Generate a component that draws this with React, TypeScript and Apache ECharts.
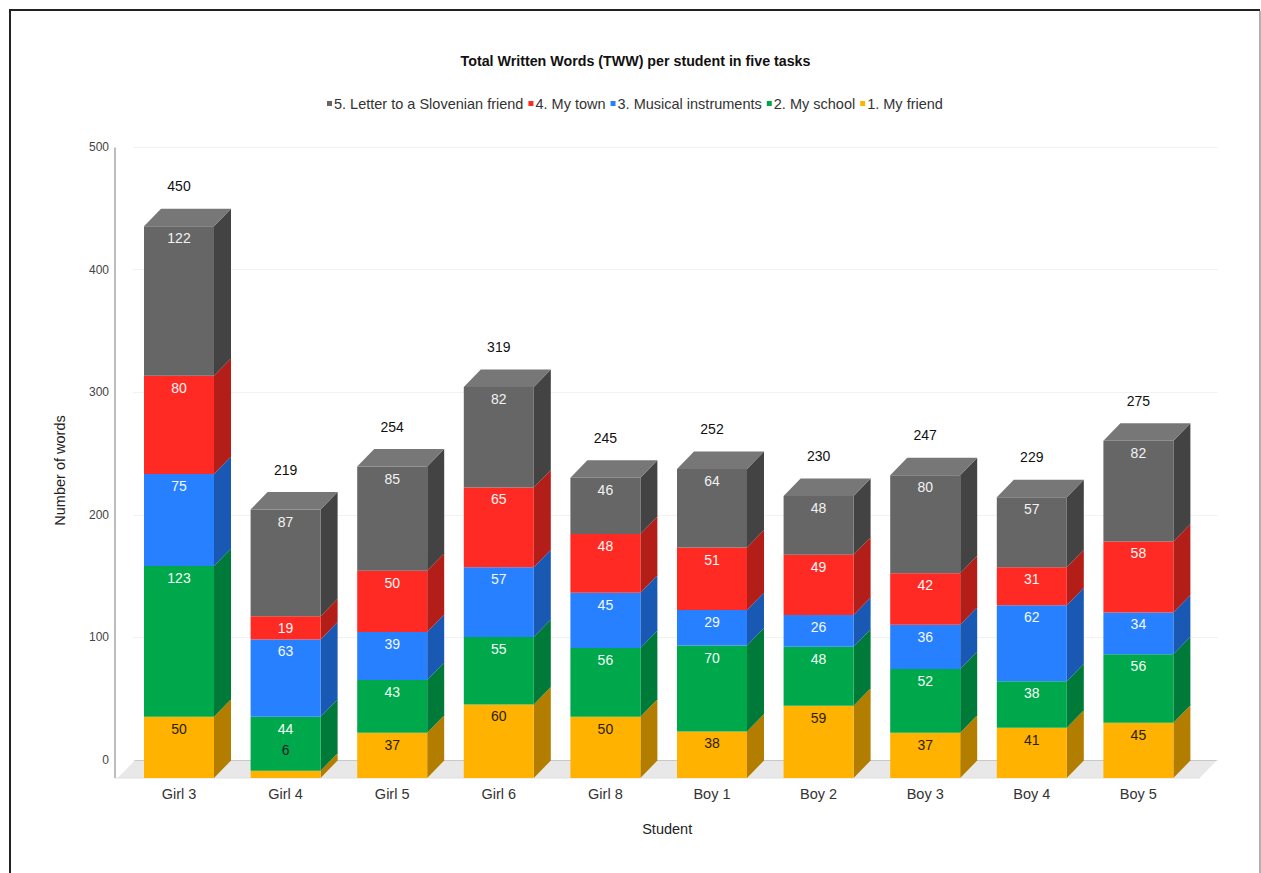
import React, { useEffect, useRef } from "react";
import * as echarts from "echarts";

const FONT = '"Liberation Sans", Arial, sans-serif';

const students = ["Girl 3", "Girl 4", "Girl 5", "Girl 6", "Girl 8", "Boy 1", "Boy 2", "Boy 3", "Boy 4", "Boy 5"];
const myFriend = [50, 6, 37, 60, 50, 38, 59, 37, 41, 45];
const mySchool = [123, 44, 43, 55, 56, 70, 48, 52, 38, 56];
const musicalInstruments = [75, 63, 39, 57, 45, 29, 26, 36, 62, 34];
const myTown = [80, 19, 50, 65, 48, 51, 49, 42, 31, 58];
const letterToFriend = [122, 87, 85, 82, 46, 64, 48, 80, 57, 82];
const totals = [450, 219, 254, 319, 245, 252, 230, 247, 229, 275];
const legendOrder = ["5. Letter to a Slovenian friend", "4. My town", "3. Musical instruments", "2. My school", "1. My friend"];

// Stacked from the ground up: values, front colour, side colour, top colour, label colour.
const tasks = [
  { name: "1. My friend", values: myFriend, front: "#ffb300", side: "#b37d00", top: "#ffc233", text: "#2b2100" },
  { name: "2. My school", values: mySchool, front: "#00a84c", side: "#007a38", top: "#33b96f", text: "#f4fff8" },
  { name: "3. Musical instruments", values: musicalInstruments, front: "#2680ff", side: "#1a59b3", top: "#5199ff", text: "#f4f8ff" },
  { name: "4. My town", values: myTown, front: "#ff2a23", side: "#b31e19", top: "#ff554f", text: "#fff6f6" },
  { name: "5. Letter to a Slovenian friend", values: letterToFriend, front: "#666666", side: "#434343", top: "#777777", text: "#f2f2f2" },
];

const DEPTH_X = 17;
const DEPTH_Y = 17.5;
const BAR_WIDTH = 70;
const SMALL_SEGMENT = 12;

function boxRenderer(task: (typeof tasks)[number], isTop: boolean) {
  return (_params: any, api: any) => {
    const i = api.value(0);
    const [cx, yBase] = api.coord([i, api.value(1)]);
    const [, yEnd] = api.coord([i, api.value(2)]);
    const x0 = cx - BAR_WIDTH / 2;
    const x1 = cx + BAR_WIDTH / 2;
    const children: any[] = [
      {
        type: "polygon",
        shape: { points: [[x1, yBase], [x1 + DEPTH_X, yBase - DEPTH_Y], [x1 + DEPTH_X, yEnd - DEPTH_Y], [x1, yEnd]] },
        style: { fill: task.side },
      },
      { type: "rect", shape: { x: x0, y: yEnd, width: BAR_WIDTH, height: yBase - yEnd }, style: { fill: task.front } },
    ];
    if (isTop) {
      children.push({
        type: "polygon",
        shape: { points: [[x0, yEnd], [x0 + DEPTH_X, yEnd - DEPTH_Y], [x1 + DEPTH_X, yEnd - DEPTH_Y], [x1, yEnd]] },
        style: { fill: task.top },
      });
    }
    // A label that would not fit in a thin segment sits above it, on the block below the next one.
    const small = yBase - yEnd < SMALL_SEGMENT;
    children.push({
      type: "text",
      z2: 50,
      style: {
        x: cx,
        y: small ? yEnd - 21 : yEnd + 12,
        text: String(api.value(3)),
        fill: small ? "#222222" : task.text,
        font: `14px ${FONT}`,
        align: "center",
        verticalAlign: "middle",
      },
    });
    return { type: "group", children };
  };
}

function floorRenderer(params: any) {
  const sys = params.coordSys;
  const bottom = sys.y + sys.height;
  const frontLeft = sys.x - 8;
  const frontRight = sys.x + sys.width + 8;
  const axisX = sys.x - 10.7;
  return {
    type: "group",
    children: [
      {
        type: "polygon",
        shape: {
          points: [
            [frontLeft, bottom],
            [frontLeft + DEPTH_X, bottom - DEPTH_Y],
            [frontRight + DEPTH_X, bottom - DEPTH_Y],
            [frontRight, bottom],
          ],
        },
        style: { fill: "#e8e8e8" },
      },
      {
        type: "line",
        shape: { x1: frontLeft + DEPTH_X, y1: bottom - DEPTH_Y, x2: frontRight + DEPTH_X, y2: bottom - DEPTH_Y },
        style: { stroke: "#c8c8c8", lineWidth: 1 },
      },
      {
        type: "line",
        shape: { x1: axisX, y1: bottom, x2: frontRight, y2: bottom },
        style: { stroke: "#e0e0e0", lineWidth: 1 },
      },
      {
        type: "line",
        shape: { x1: axisX, y1: sys.y - DEPTH_Y, x2: axisX, y2: bottom },
        style: { stroke: "#bdbdbd", lineWidth: 2 },
      },
    ],
  };
}

function totalRenderer(_params: any, api: any) {
  const [cx, y] = api.coord([api.value(0), api.value(1)]);
  return {
    type: "text",
    z2: 50,
    style: {
      x: cx,
      y: y - 40,
      text: String(api.value(1)),
      fill: "#111111",
      font: `14px ${FONT}`,
      align: "center",
      verticalAlign: "middle",
    },
  };
}

function buildSeries() {
  const running = students.map(() => 0);
  const stacks = tasks.map((task, t) => {
    const rows = task.values.map((v, i) => {
      const row = [i, running[i], running[i] + v, v];
      running[i] += v;
      return row;
    });
    return {
      type: "custom",
      name: task.name,
      xAxisIndex: 1,
      yAxisIndex: 1,
      clip: false,
      itemStyle: { color: task.front },
      encode: { x: 0, y: [1, 2] },
      data: rows,
      renderItem: boxRenderer(task, t === tasks.length - 1),
    };
  });
  return [
    {
      type: "custom",
      name: "floor",
      xAxisIndex: 1,
      yAxisIndex: 1,
      clip: false,
      silent: true,
      z: 1,
      data: [[0, 0]],
      renderItem: floorRenderer,
    },
    ...stacks,
    {
      type: "custom",
      name: "Total",
      xAxisIndex: 1,
      yAxisIndex: 1,
      clip: false,
      encode: { x: 0, y: 1 },
      data: totals.map((v, i) => [i, v]),
      renderItem: totalRenderer,
    },
  ];
}

export default function App() {
  const ref = useRef<HTMLDivElement>(null);
  useEffect(() => {
    const chart = echarts.init(ref.current!, undefined, { renderer: "svg" });
    chart.setOption({
      animation: false,
      backgroundColor: "#ffffff",
      textStyle: { fontFamily: FONT },
      title: {
        text: "Total Written Words (TWW) per student in five tasks",
        left: 630.5,
        top: 49,
        textAlign: "center",
        textStyle: { fontFamily: FONT, fontSize: 14.25, fontWeight: "bold", color: "#111111" },
      },
      legend: {
        data: legendOrder,
        top: 91,
        left: 322,
        icon: "rect",
        itemWidth: 5,
        itemHeight: 5,
        itemGap: 5,
        textStyle: { fontFamily: FONT, fontSize: 14.5, color: "#333333", padding: [0, 0, 0, -3] },
      },
      grid: [
        { left: 133, top: 147, width: 1085, height: 613 },
        { left: 125.7, top: 165, width: 1066, height: 613 },
      ],
      xAxis: [
        { gridIndex: 0, type: "category", data: students, show: false },
        {
          gridIndex: 1,
          type: "category",
          data: students,
          name: "Student",
          nameLocation: "middle",
          nameGap: 43,
          nameTextStyle: { fontFamily: FONT, fontSize: 14.5, color: "#222222", padding: [0, 0, 0, 17] },
          axisLine: { show: false },
          axisTick: { show: false },
          axisLabel: { margin: 8, fontFamily: FONT, fontSize: 14.5, color: "#333333" },
        },
      ],
      yAxis: [
        {
          gridIndex: 0,
          type: "value",
          min: 0,
          max: 500,
          interval: 100,
          name: "Number of words",
          nameLocation: "middle",
          nameGap: 66,
          nameTextStyle: { fontFamily: FONT, fontSize: 14.5, color: "#222222", padding: [0, 34, 0, 0] },
          axisLine: { show: false },
          axisTick: { show: false },
          axisLabel: { margin: 24, fontFamily: FONT, fontSize: 12, color: "#444444" },
          splitLine: { lineStyle: { color: "#f2f2f2", width: 1 } },
        },
        { gridIndex: 1, type: "value", min: 0, max: 500, show: false },
      ],
      series: buildSeries(),
      graphic: [
        {
          type: "polyline",
          silent: true,
          shape: { points: [[10, 873], [10, 10], [1260, 10]] },
          style: { stroke: "#222222", lineWidth: 2, fill: "none" },
        },
        {
          type: "line",
          silent: true,
          shape: { x1: 1260, y1: 11, x2: 1260, y2: 873 },
          style: { stroke: "#999999", lineWidth: 1.5 },
        },
      ],
    });
    return () => chart.dispose();
  }, []);
  return <div ref={ref} style={{ position: "fixed", left: 0, top: 0, width: 1261, height: 873 }} />;
}
